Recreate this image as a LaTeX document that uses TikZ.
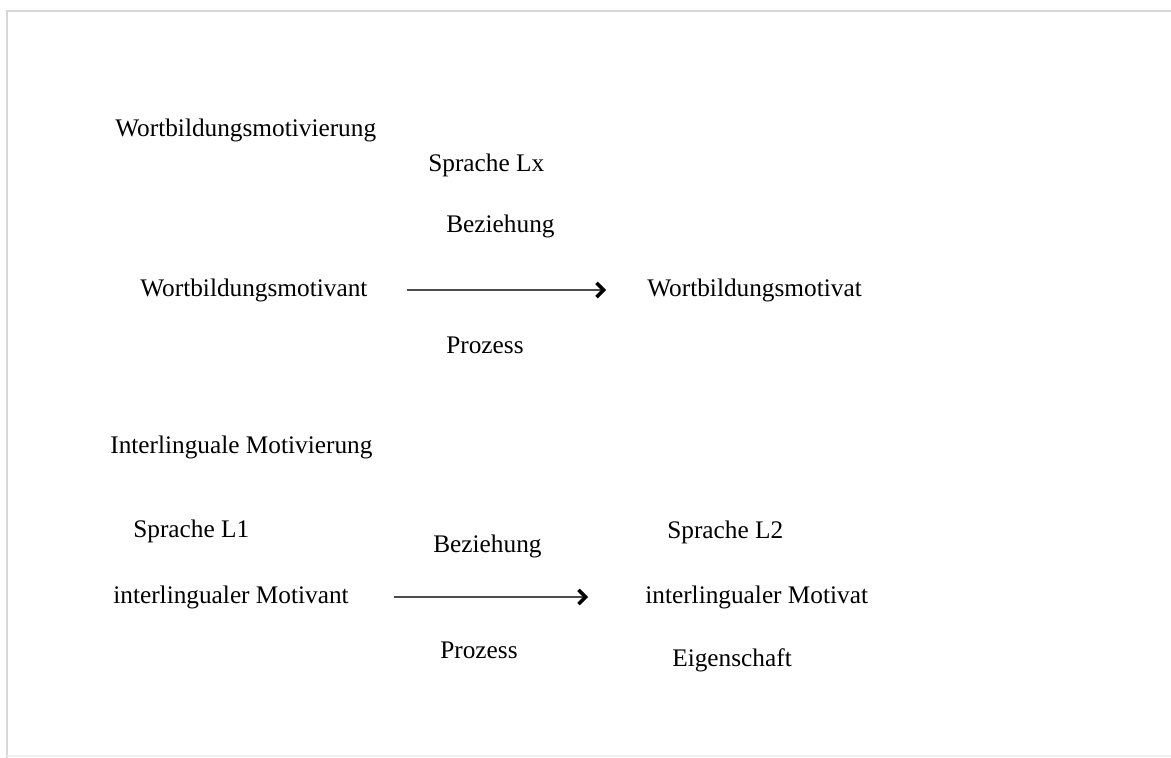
\documentclass[tikz,border=0pt]{standalone}
\usepackage{fontspec}
\setmainfont{Liberation Serif}
\usepackage{xcolor}
\usetikzlibrary{arrows.meta}
\usetikzlibrary{math}
\definecolor{mygray}{RGB}{215,215,215}

\begin{document}
\begin{tikzpicture}[x=0.02cm,y=-0.02cm,
 txt/.style={anchor=west,inner sep=0pt,font=\fontsize{14.4}{17}\selectfont},
 pfeil/.style={-{Straight Barb[length=4pt,width=8pt,line width=2pt,color=black]},line width=1.3pt,color=black!70}]
\tikzmath{
\W=1171;%picture width
\H=758;%picture height
}
\useasboundingbox (0,0) rectangle (\W,\H);
%frame
\draw[color=mygray,line width=1.5] (\W+5,11) -- (7,11) -- (7,\H+5);
\draw[color=mygray!40,line width=1] (7,756) -- (\W+5,756);

%word formation
\node[txt] (wbmotivierung) at (115,130) {Wortbildungsmotivierung};
\node[txt] (lx) at (428,165) {Sprache Lx};
\node[txt] (bez1) at (446,226) {Beziehung};
\node[txt] (mvant) at (140,290) {Wortbildungsmotivant};
\node[txt] (mvat) at (647,290) {Wortbildungsmotivat};
\node[txt] (proz1) at (446,345) {Prozess};
\draw[pfeil,shorten <=0.78cm,shorten >=0.82cm] (mvant.east) -- (mvat.west);

%interlingual
\node[txt] (ilmotivierung) at (110,447) {Interlinguale Motivierung};
\node[txt] (l1) at (133,531) {Sprache L1};
\node[txt] (bez2) at (433,546) {Beziehung};
\node[txt] (l2) at (667,532) {Sprache L2};
\node[txt] (ilvant) at (113,597) {interlingualer Motivant};
\node[txt] (ilvat) at (645,597) {interlingualer Motivat};
\node[txt] (proz2) at (440,650) {Prozess};
\node[txt] (eig) at (672,660) {Eigenschaft};
\draw[pfeil,shorten <=0.9cm,shorten >=1.14cm] (ilvant.east) -- (ilvat.west);

\end{tikzpicture}
\end{document}
